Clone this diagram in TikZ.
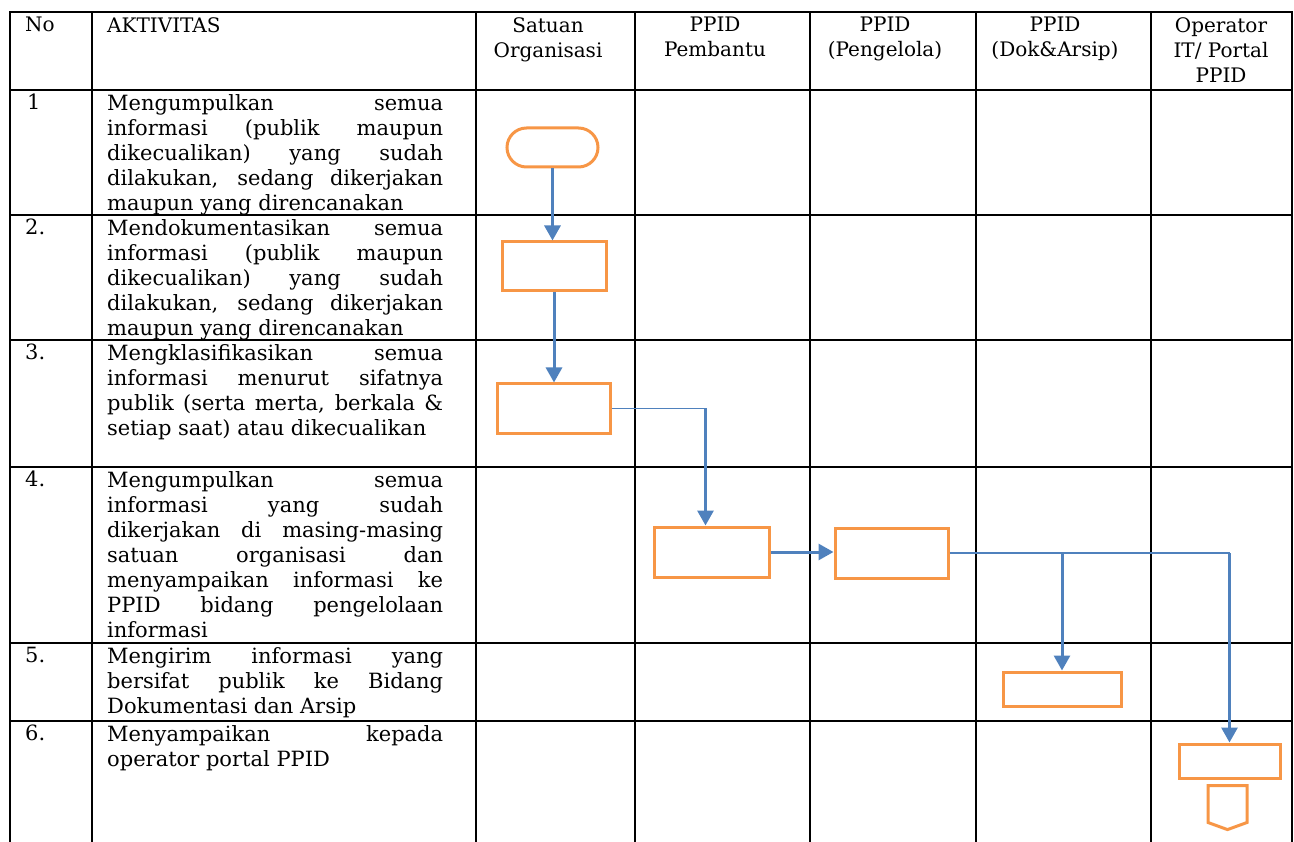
\documentclass[tikz,border=0pt]{standalone}
\usepackage{fontspec}
\setmainfont{DejaVu Serif}
\usepackage{xcolor}
\usepackage{tikz}
\usetikzlibrary{arrows.meta,calc,shapes.misc,shapes.symbols}
\definecolor{boxorange}{HTML}{F79646}
\definecolor{flowblue}{HTML}{4F81BD}
\newcommand{\jl}[1]{\makebox[336pt][s]{#1}}

\begin{document}
\begin{tikzpicture}[x=1pt,y=-1pt,
  grid/.style={line width=2.2pt,line cap=rect},
  head/.style={anchor=north,align=center,inner sep=0pt,font=\fontsize{20}{25}\selectfont},
  txt/.style={anchor=north west,align=left,inner sep=0pt,font=\fontsize{21}{25}\selectfont},
  proc/.style={draw=boxorange,line width=3pt,rectangle,inner sep=0pt},
  flow/.style={draw=flowblue,line width=3pt,-{Triangle[length=15pt,width=16pt]}},
  link/.style={draw=flowblue,line width=1.8pt}]
  \useasboundingbox (0,0) rectangle (1294,842);
  \foreach \y in {12,90,215,340,467,643,721}
    \draw[grid] (10,\y) -- (1292,\y);
  \foreach \x in {10,92,476,635,810,976,1151,1292}
    \draw[grid] (\x,12) -- (\x,842);

  \node[head,anchor=north west] (hno) at (25,17) {No};
  \node[head,anchor=north west] (hakt) at (107,17) {AKTIVITAS};
  \node[head] (hsat) at (548,17) {Satuan\\Organisasi};
  \node[head] (hpem) at (715,17) {PPID\\Pembantu};
  \node[head] (hpeng) at (885,17) {PPID\\(Pengelola)};
  \node[head] (hdok) at (1055,17) {PPID\\(Dok\&Arsip)};
  \node[head] (hop) at (1221,17) {Operator\\IT/ Portal\\PPID};

  \node[txt] (n1) at (27,94) {1};
  \node[txt] (t1) at (107,94) {\jl{Mengumpulkan semua}\\\jl{informasi (publik maupun}\\\jl{dikecualikan) yang sudah}\\\jl{dilakukan, sedang dikerjakan}\\maupun yang direncanakan};
  \node[txt] (n2) at (25,219) {2.};
  \node[txt] (t2) at (107,219) {\jl{Mendokumentasikan semua}\\\jl{informasi (publik maupun}\\\jl{dikecualikan) yang sudah}\\\jl{dilakukan, sedang dikerjakan}\\maupun yang direncanakan};
  \node[txt] (n3) at (25,344) {3.};
  \node[txt] (t3) at (107,344) {\jl{Mengklasifikasikan semua}\\\jl{informasi menurut sifatnya}\\\jl{publik (serta merta, berkala \&}\\setiap saat) atau dikecualikan};
  \node[txt] (n4) at (25,471) {4.};
  \node[txt] (t4) at (107,471) {\jl{Mengumpulkan semua}\\\jl{informasi yang sudah}\\\jl{dikerjakan di masing-masing}\\\jl{satuan organisasi dan}\\\jl{menyampaikan informasi ke}\\\jl{PPID bidang pengelolaan}\\informasi};
  \node[txt] (n5) at (25,647) {5.};
  \node[txt] (t5) at (107,647) {\jl{Mengirim informasi yang}\\\jl{bersifat publik ke Bidang}\\Dokumentasi dan Arsip};
  \node[txt] (n6) at (25,725) {6.};
  \node[txt] (t6) at (107,725) {\jl{Menyampaikan kepada}\\operator portal PPID};

  \node[draw=boxorange,line width=3pt,rounded rectangle,minimum width=91pt,minimum height=39pt,inner sep=0pt] (start) at (552.5,147.5) {};
  \node[proc,minimum width=104pt,minimum height=49pt] (dokum) at (554,266.5) {};
  \node[proc,minimum width=113pt,minimum height=49pt] (klas) at (553.5,408.5) {};
  \node[proc,minimum width=115pt,minimum height=50pt] (pemb) at (711.5,552) {};
  \node[proc,minimum width=113pt,minimum height=50pt] (kelola) at (891.5,553) {};
  \node[proc,minimum width=118pt,minimum height=34pt] (arsip) at (1062,689) {};
  \node[proc,minimum width=101pt,minimum height=34pt] (portal) at (1229.5,761) {};
  \node[draw=boxorange,line width=3pt,signal,signal to=south,signal from=nowhere,signal pointer angle=140,minimum width=39pt,minimum height=37pt,inner sep=0pt] (lanjut) at (1227.5,804) {};

  \draw[flow] (start.south) -- (start.south |- dokum.north);
  \draw[flow] (dokum.south) -- (dokum.south |- klas.north);
  \path (pemb.north) ++(-6,0) coordinate (pembin);
  \coordinate (k1) at (klas.east -| pembin);
  \draw[link] (klas.east) -- (k1);
  \draw[flow] (k1) -- (pembin);
  \draw[flow] (pemb.east) -- (pemb.east -| kelola.west);
  \coordinate (j1) at (kelola.east -| arsip.north);
  \coordinate (j2) at (kelola.east -| portal.north);
  \draw[link] (kelola.east) -- (j2);
  \draw[flow] (j1) -- (arsip.north);
  \draw[flow] (j2) -- (portal.north);
\end{tikzpicture}
\end{document}
